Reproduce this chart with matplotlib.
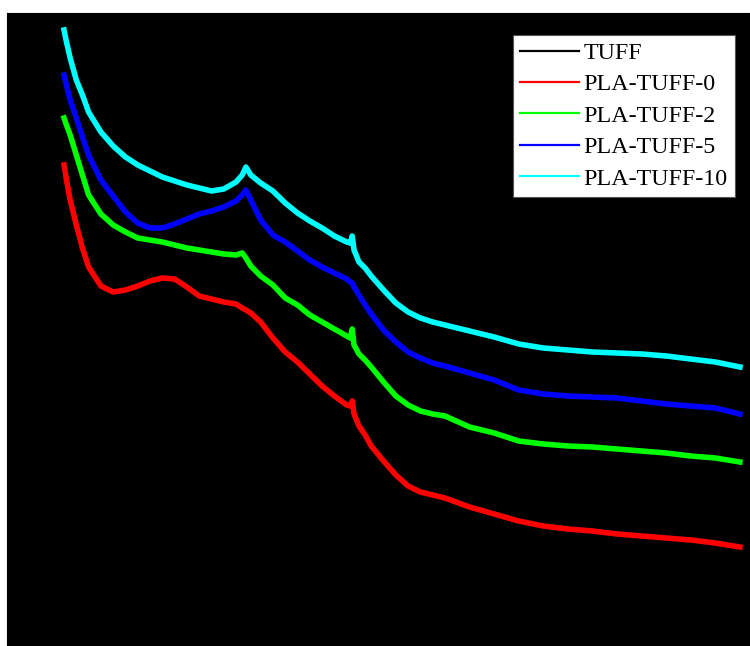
import matplotlib
matplotlib.use('Agg')
import matplotlib.pyplot as plt

# 2theta positions (deg) shared by the composite patterns
two_theta = [5, 5.2, 5.5, 6, 6.5, 7, 8, 9, 10, 11, 12, 13, 14, 15, 16, 17, 18, 19, 19.5, 19.8,
             20.2, 21, 22, 23, 24, 25, 26, 27, 28, 28.3, 28.45, 28.6, 29, 29.5, 30, 31, 32, 33,
             34, 35, 36, 38, 40, 42, 44, 46, 48, 50, 52, 54, 56, 58, 60]

pla_tuff_0 = [481, 466, 446, 421, 398, 379, 360, 354, 356, 360, 365, 368, 367, 359, 350, 347, 344,
              342, 338, 336, 333, 324, 308, 294, 284, 272, 260, 250, 241, 240, 245, 232, 220, 211,
              200, 185, 171, 160, 154, 151, 148, 139, 132, 125, 120, 117, 115, 112, 110, 108, 106,
              103, 99]
pla_tuff_2 = [528, 521, 511, 491, 471, 451, 432, 421, 414, 408, 406, 404, 401, 398, 396, 394, 392,
              391, 393, 388, 380, 370, 361, 348, 341, 331, 324, 317, 310, 308, 317, 301, 292, 286,
              279, 264, 250, 241, 235, 232, 230, 219, 213, 205, 202, 200, 199, 197, 195, 193, 190,
              188, 184]
pla_tuff_5 = [571, 561, 546, 528, 509, 491, 466, 450, 434, 423, 418, 418, 422, 427, 432, 435, 439,
              445, 451, 456, 446, 426, 411, 404, 395, 386, 379, 373, 367, 364, 363, 359, 351, 341,
              332, 316, 304, 294, 288, 283, 280, 273, 266, 256, 252, 250, 249, 248, 245, 242, 240,
              238, 232]
pla_tuff_10 = [616, 604, 588, 566, 551, 534, 514, 500, 489, 481, 475, 469, 465, 461, 458, 455, 457,
               464, 471, 479, 471, 463, 455, 443, 433, 425, 418, 410, 404, 403, 410, 396, 384, 378,
               370, 356, 343, 334, 328, 324, 321, 315, 309, 302, 298, 296, 294, 293, 292, 290, 287,
               284, 279]

# neat tuff pattern (plotted in black)
tuff_2theta = [5, 7, 10, 13, 20, 26.6, 28, 30, 35, 40, 50, 60]
tuff = [420, 340, 300, 290, 270, 300, 240, 200, 150, 120, 95, 80]

labels = ['TUFF', 'PLA-TUFF-0', 'PLA-TUFF-2', 'PLA-TUFF-5', 'PLA-TUFF-10']
colores = ['#000000', '#ff0000', '#00ff00', '#0000ff', '#00ffff']

fig = plt.figure(figsize=(7.5, 6.46), dpi=100)
fig.patch.set_facecolor('white')
ax = fig.add_axes([7/750, 0, 743/750, 633/646])
ax.set_facecolor('black')

series = [(tuff_2theta, tuff), (two_theta, pla_tuff_0), (two_theta, pla_tuff_2),
          (two_theta, pla_tuff_5), (two_theta, pla_tuff_10)]
for (xx, yy), lab, cor in zip(series, labels, colores):
    ax.plot(xx, yy, color=cor, lw=4.0, label=lab, solid_joinstyle='round')

ax.set_xlim(0.36, 60.82)
ax.set_ylim(0, 633)
ax.tick_params(labelleft=False, labelbottom=False, length=0)
for s in ax.spines.values():
    s.set_color('black')

leg = ax.legend(loc='upper right', bbox_to_anchor=(735/750, 1 - 35/646),
                bbox_transform=fig.transFigure, borderaxespad=0,
                prop={'family': 'Liberation Serif', 'size': 17.3},
                handlelength=2.45, handletextpad=0.2, labelspacing=0.4,
                borderpad=0.3, frameon=True, fancybox=False, framealpha=1)
leg.get_frame().set_edgecolor('#555555')
leg.get_frame().set_linewidth(0.8)
for h in leg.get_lines():
    h.set_linewidth(1.6)

plt.savefig('out.png', dpi=100, facecolor='white')
plt.close()
